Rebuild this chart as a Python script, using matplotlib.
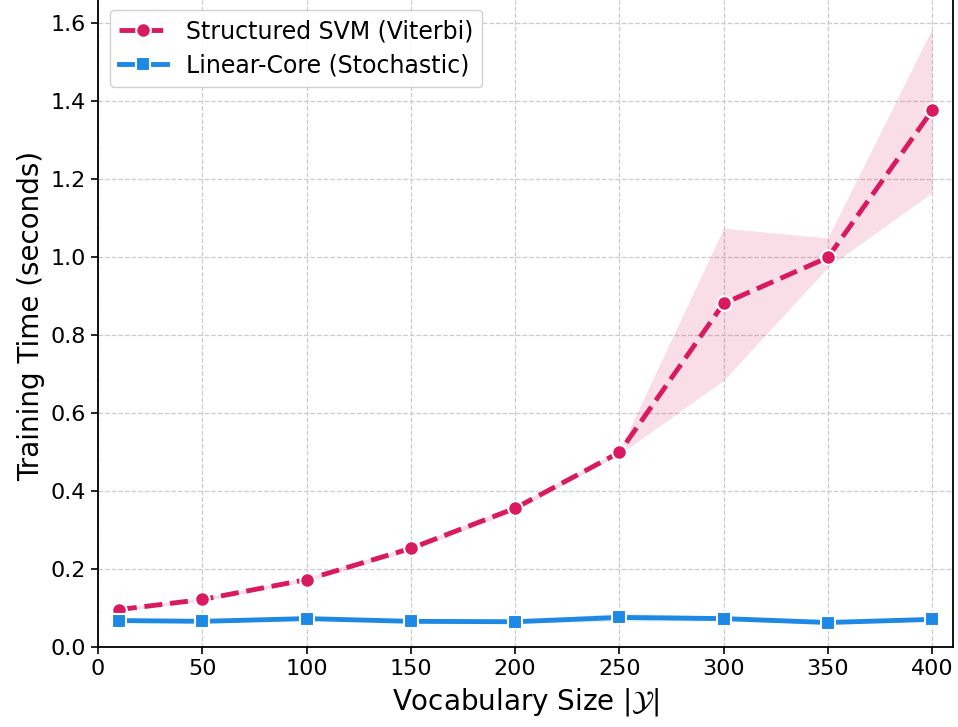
import matplotlib.pyplot as plt
import numpy as np

# Data
vocab = [10, 50, 100, 150, 200, 250, 300, 350, 400]

svm_mean = [0.097, 0.123, 0.174, 0.254, 0.357, 0.500, 0.882, 1.000, 1.377]
svm_low = [0.093, 0.119, 0.169, 0.248, 0.350, 0.495, 0.685, 0.975, 1.167]
svm_high = [0.101, 0.127, 0.179, 0.260, 0.364, 0.505, 1.075, 1.050, 1.587]

lin_mean = [0.069, 0.067, 0.074, 0.067, 0.066, 0.077, 0.074, 0.064, 0.072]
lin_low = [0.066, 0.064, 0.070, 0.064, 0.063, 0.068, 0.068, 0.061, 0.068]
lin_high = [0.072, 0.070, 0.078, 0.070, 0.069, 0.088, 0.080, 0.067, 0.076]

red = '#D81B60'
blue = '#1E88E5'

fig = plt.figure(figsize=(9.58, 7.27), dpi=100)
ax = fig.add_axes([0.1023, 0.1094, 0.8925, 0.912])

ax.fill_between(vocab, svm_low, svm_high, color=red, alpha=0.15, linewidth=0)
ax.fill_between(vocab, lin_low, lin_high, color=blue, alpha=0.15, linewidth=0)

ax.plot(vocab, svm_mean, color=red, linestyle='--', linewidth=3.5, marker='o',
        markersize=10.5, markeredgecolor='white', markeredgewidth=1.5,
        label='Structured SVM (Viterbi)', zorder=3)
ax.plot(vocab, lin_mean, color=blue, linestyle='-', linewidth=3.5, marker='s',
        markersize=10, markeredgecolor='white', markeredgewidth=1.5,
        label='Linear-Core (Stochastic)', zorder=3)

ax.set_xlim(0, 410)
ax.set_ylim(0, 1.7)
ax.set_xticks(np.arange(0, 401, 50))
ax.set_yticks(np.arange(0, 1.61, 0.2))
ax.tick_params(labelsize=16, width=1.2, length=5)
for s in ax.spines.values():
    s.set_linewidth(1.3)
ax.grid(True, linestyle='--', color='#cccccc', linewidth=0.9)
ax.set_axisbelow(True)

ax.set_xlabel(r'Vocabulary Size $|\mathcal{Y}|$', fontsize=20, labelpad=5)
ax.set_ylabel('Training Time (seconds)', fontsize=20, labelpad=4)

ax.legend(loc='upper left', bbox_to_anchor=(0.014, 0.962), borderaxespad=0,
          fontsize=17, framealpha=0.9, edgecolor='#cccccc', handlelength=2.0,
          labelspacing=0.45)

fig.savefig('out.png', dpi=100)
